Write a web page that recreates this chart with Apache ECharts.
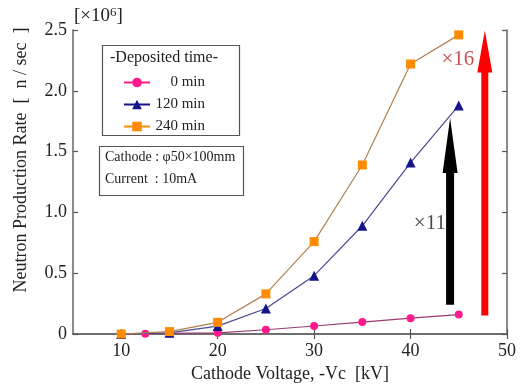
<!DOCTYPE html>
<html>
<head>
<meta charset="utf-8">
<script src="https://cdn.jsdelivr.net/npm/echarts@6/dist/echarts.min.js"></script>
<style>html,body{margin:0;padding:0;background:#fff}#c{width:523px;height:388px}</style>
</head>
<body>
<div id="c"></div>
<script>
// ---- data ----
const seriesNames = ['0 min', '120 min', '240 min'];
const voltage0 = [10, 12.5, 15, 20, 25, 30, 35, 40, 45];
const rate0 = [0, 0.002, 0.005, 0.01, 0.035, 0.066, 0.098, 0.13, 0.16];
const voltage120 = [10, 15, 20, 25, 30, 35, 40, 45];
const rate120 = [0, 0.01, 0.065, 0.21, 0.48, 0.89, 1.41, 1.88];
const voltage240 = [10, 15, 20, 25, 30, 35, 40, 45];
const rate240 = [0, 0.02, 0.096, 0.33, 0.76, 1.39, 2.22, 2.46];
const xTicks = [10, 20, 30, 40, 50];
// arrows: [x, yBottom, yTop]
const arrowData = [[44.1, 0.24, 1.776], [47.7, 0.152, 2.496]];
const ratioLabels = [[42.0, 0.91, '×11'], [44.9, 2.26, '×16']];

const FONT = '"Liberation Serif", "DejaVu Serif", serif';
const arrowStyles = [
  {color: '#000000', shaft: 8, headW: 15, headL: 55},
  {color: '#ff0000', shaft: 7, headW: 15, headL: 42}
];
const labelColors = ['#1a1a1a', '#b8242a'];

const chart = echarts.init(document.getElementById('c'));
const zip = (xs, ys) => xs.map((x, i) => [x, ys[i]]);

const axisLine = {show: true, lineStyle: {color: '#666', width: 1.5}};
const tickStyle = {show: true, inside: true, length: 5, lineStyle: {color: '#555', width: 1.2}};

chart.setOption({
  animation: false,
  grid: {left: 73, right: 16, top: 30, bottom: 46, containLabel: false},
  xAxis: [{
    type: 'value', min: 5, max: 50,
    name: 'Cathode Voltage, -Vc  [kV]', nameLocation: 'middle', nameGap: 31,
    nameTextStyle: {fontFamily: FONT, fontSize: 18, color: '#222'},
    axisLine: axisLine,
    axisTick: Object.assign({customValues: xTicks}, tickStyle),
    axisLabel: {customValues: xTicks, fontFamily: FONT, fontSize: 18, color: '#222', margin: 8},
    splitLine: {show: false}
  }, {
    type: 'value', min: 5, max: 50, position: 'top',
    axisLine: axisLine,
    axisTick: Object.assign({customValues: xTicks}, tickStyle),
    axisLabel: {show: false},
    splitLine: {show: false}
  }],
  yAxis: [{
    type: 'value', min: 0, max: 2.5, interval: 0.5,
    axisLine: axisLine,
    axisTick: tickStyle,
    axisLabel: {fontFamily: FONT, fontSize: 18, color: '#222', margin: 6,
      formatter: v => v === 0 ? '0' : v.toFixed(1)},
    splitLine: {show: false}
  }, {
    type: 'value', min: 0, max: 2.5, interval: 0.5, position: 'right',
    axisLine: axisLine,
    axisTick: tickStyle,
    axisLabel: {show: false},
    splitLine: {show: false}
  }],
  legend: {
    left: 118, top: 70, orient: 'vertical', itemGap: 7, itemWidth: 26, itemHeight: 12,
    formatter: n => '{a|' + n + '}',
    textStyle: {fontFamily: FONT, fontSize: 15, color: '#222',
      rich: {a: {width: 50, align: 'right', fontFamily: FONT, fontSize: 15, color: '#222'}}},
    data: [
      {name: seriesNames[0], itemStyle: {color: '#ff1a8c'}, lineStyle: {color: '#ff1a8c'}},
      {name: seriesNames[1], itemStyle: {color: '#14148c'}, lineStyle: {color: '#14148c'}},
      {name: seriesNames[2], itemStyle: {color: '#ff8c00'}, lineStyle: {color: '#ff8c00'}}
    ]
  },
  graphic: [
    {type: 'rect', left: 100, top: 43, shape: {width: 137, height: 90},
     style: {fill: 'none', stroke: '#555', lineWidth: 1.2}, z: 10},
    {type: 'text', left: 110, top: 50,
     style: {text: '-Deposited time-', font: '16px ' + FONT, fill: '#222'}, z: 10},
    {type: 'rect', left: 97, top: 144, shape: {width: 144, height: 49},
     style: {fill: 'none', stroke: '#555', lineWidth: 1.2}, z: 10},
    {type: 'text', left: 105, top: 150,
     style: {text: 'Cathode : φ50×100mm', font: '14px ' + FONT, fill: '#222'}, z: 10},
    {type: 'text', left: 105, top: 172,
     style: {text: 'Current  : 10mA', font: '14px ' + FONT, fill: '#222'}, z: 10},
    {type: 'text', left: 74, top: 6,
     style: {text: '[×10{s|6}]', font: '19px ' + FONT, fill: '#222',
       rich: {s: {fontSize: 13, fontFamily: FONT, verticalAlign: 'top', padding: [0, 0, 8, 0]}}}, z: 10},
    {type: 'text', x: 21, y: 160, rotation: Math.PI / 2,
     style: {text: 'Neutron Production Rate  [  n / sec  ]', font: '18px ' + FONT, fill: '#222',
       align: 'center', verticalAlign: 'middle'}, z: 10}
  ],
  series: [
    {name: seriesNames[0], type: 'line', data: zip(voltage0, rate0), xAxisIndex: 0, yAxisIndex: 0,
     symbol: 'circle', symbolSize: 8, itemStyle: {color: '#ff1a8c'},
     lineStyle: {color: '#9a3a70', width: 1.2}, z: 2},
    {name: seriesNames[1], type: 'line', data: zip(voltage120, rate120),
     symbol: 'triangle', symbolSize: 10, itemStyle: {color: '#14148c'},
     lineStyle: {color: '#4a4a90', width: 1.2}, z: 3},
    {name: seriesNames[2], type: 'line', data: zip(voltage240, rate240),
     symbol: 'rect', symbolSize: 9, itemStyle: {color: '#ff8c00'},
     lineStyle: {color: '#b08050', width: 1.2}, z: 4},
    {type: 'custom', data: arrowData, silent: true, z: 5,
     renderItem: function (params, api) {
       const st = arrowStyles[params.dataIndex];
       const b = api.coord([api.value(0), api.value(1)]);
       const t = api.coord([api.value(0), api.value(2)]);
       const x = b[0], s = st.shaft / 2, h = st.headW / 2, hy = t[1] + st.headL;
       return {type: 'polygon',
         shape: {points: [[x - s, b[1]], [x - s, hy], [x - h, hy], [x, t[1]], [x + h, hy], [x + s, hy], [x + s, b[1]]]},
         style: {fill: st.color}};
     }},
    {type: 'scatter', data: ratioLabels.map((d, i) => ({value: d,
       label: {show: true, position: 'inside', formatter: d[2], color: labelColors[i],
         fontFamily: FONT, fontSize: 21}})),
     symbolSize: 1, itemStyle: {color: 'rgba(0,0,0,0)'}, silent: true, z: 6}
  ]
});
</script>
</body>
</html>
